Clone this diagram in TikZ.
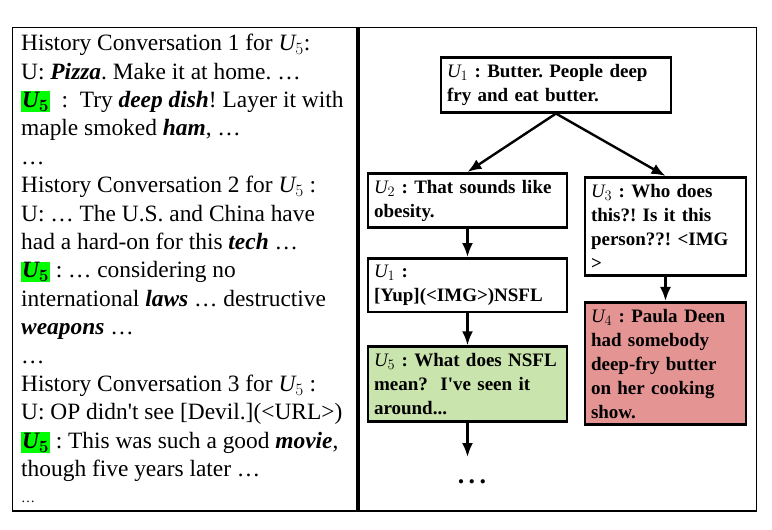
\documentclass[tikz,border=0pt]{standalone}
\usepackage{fontspec}
\setmainfont{Liberation Serif}
\usetikzlibrary{positioning, arrows.meta}

\definecolor{replygreen}{RGB}{201,228,172}
\definecolor{replyred}{RGB}{229,148,148}
\definecolor{markgreen}{RGB}{0,255,0}
\newcommand{\usr}[1]{$\mathit{U}_{#1}$}
\newcommand{\hlusr}{{\setlength{\fboxsep}{0.8pt}\colorbox{markgreen}{\boldmath$\mathit{U}_{\mathbf{5}}$}}}
\newcommand{\kw}[1]{\textbf{\textit{#1}}}
\newcommand{\apo}{\textquotesingle}
\frenchspacing

\begin{document}
\begin{tikzpicture}[
    x=1pt, y=-1pt,
    >=Latex,
    node distance=30pt,
    box/.style={
        draw=black,
        line width=2.8pt,
        align=left,
        inner xsep=6pt,
        inner ysep=6.5pt,
        font=\fontsize{19}{24}\selectfont\bfseries
    },
    widebox/.style={box, text width=218pt},
    midbox/.style={box, text width=187pt},
    narrowbox/.style={box, text width=149pt},
    arrow/.style={-{Latex[length=14pt, width=11pt]}, line width=2.4pt}
]
\useasboundingbox (0,0) rectangle (772,530);

% frame
\draw[line width=1.5pt] (12.5,27.5) rectangle (756.5,511);
\draw[line width=4pt] (358,27.5) -- (358,511);

% history panel
\node[anchor=north west, align=left, inner sep=0pt,
      font=\fontsize{23.4}{28.4}\selectfont] (hist) at (21,34) {%
History Conversation 1 for \usr{5}:\\
U: \kw{Pizza}. Make it at home. …\\
\hlusr\enspace:\enspace Try \kw{deep dish}! Layer it with\\
maple smoked \kw{ham}, …\\
…\\
History Conversation 2 for \usr{5} :\\
U: … The U.S. and China have\\
had a hard-on for this \kw{tech} …\\
\hlusr{} : … considering no\\
international \kw{laws} … destructive\\
\kw{weapons} …\\
…\\
History Conversation 3 for \usr{5} :\\
U: OP didn\apo t see [Devil.](<URL>)\\
\hlusr{} : This was such a good \kw{movie},\\
though five years later …\\[-3pt]
{\fontsize{14}{14}\selectfont …}};

% conversation tree
\node[widebox] (root) at (556,85) {\usr{1} : Butter. People deep\\fry and eat butter.};
\node[midbox] (that) at (467.5,200.5) {\usr{2} : That sounds like\\obesity.};
\node[midbox, below=28pt of that] (yup) {\usr{1} :\\{[Yup](<IMG>)NSFL}};
\node[midbox, fill=replygreen, below=32pt of yup] (what) {\usr{5} : What does NSFL\\mean?\ \ I\apo ve seen it\\around...};
\node[narrowbox] (who) at (665.5,226.5) {\usr{3} : Who does\\this?! Is it this\\person??! <IMG\\>};
\node[narrowbox, fill=replyred, below=24pt of who] (paula) {\usr{4} : Paula Deen\\had somebody\\deep-fry butter\\on her cooking\\show.};
\coordinate (more) at (467.5,457);
\node[font=\fontsize{26}{26}\selectfont\bfseries] (dots) at (472,482) {.\,.\,.};

\draw[arrow] (root.south) -- (that.north);
\draw[arrow] (root.south) -- (who.north);
\draw[arrow] (that) -- (yup);
\draw[arrow] (yup) -- (what);
\draw[arrow] (what) -- (more);
\draw[arrow] (who) -- (paula);

\end{tikzpicture}
\end{document}
